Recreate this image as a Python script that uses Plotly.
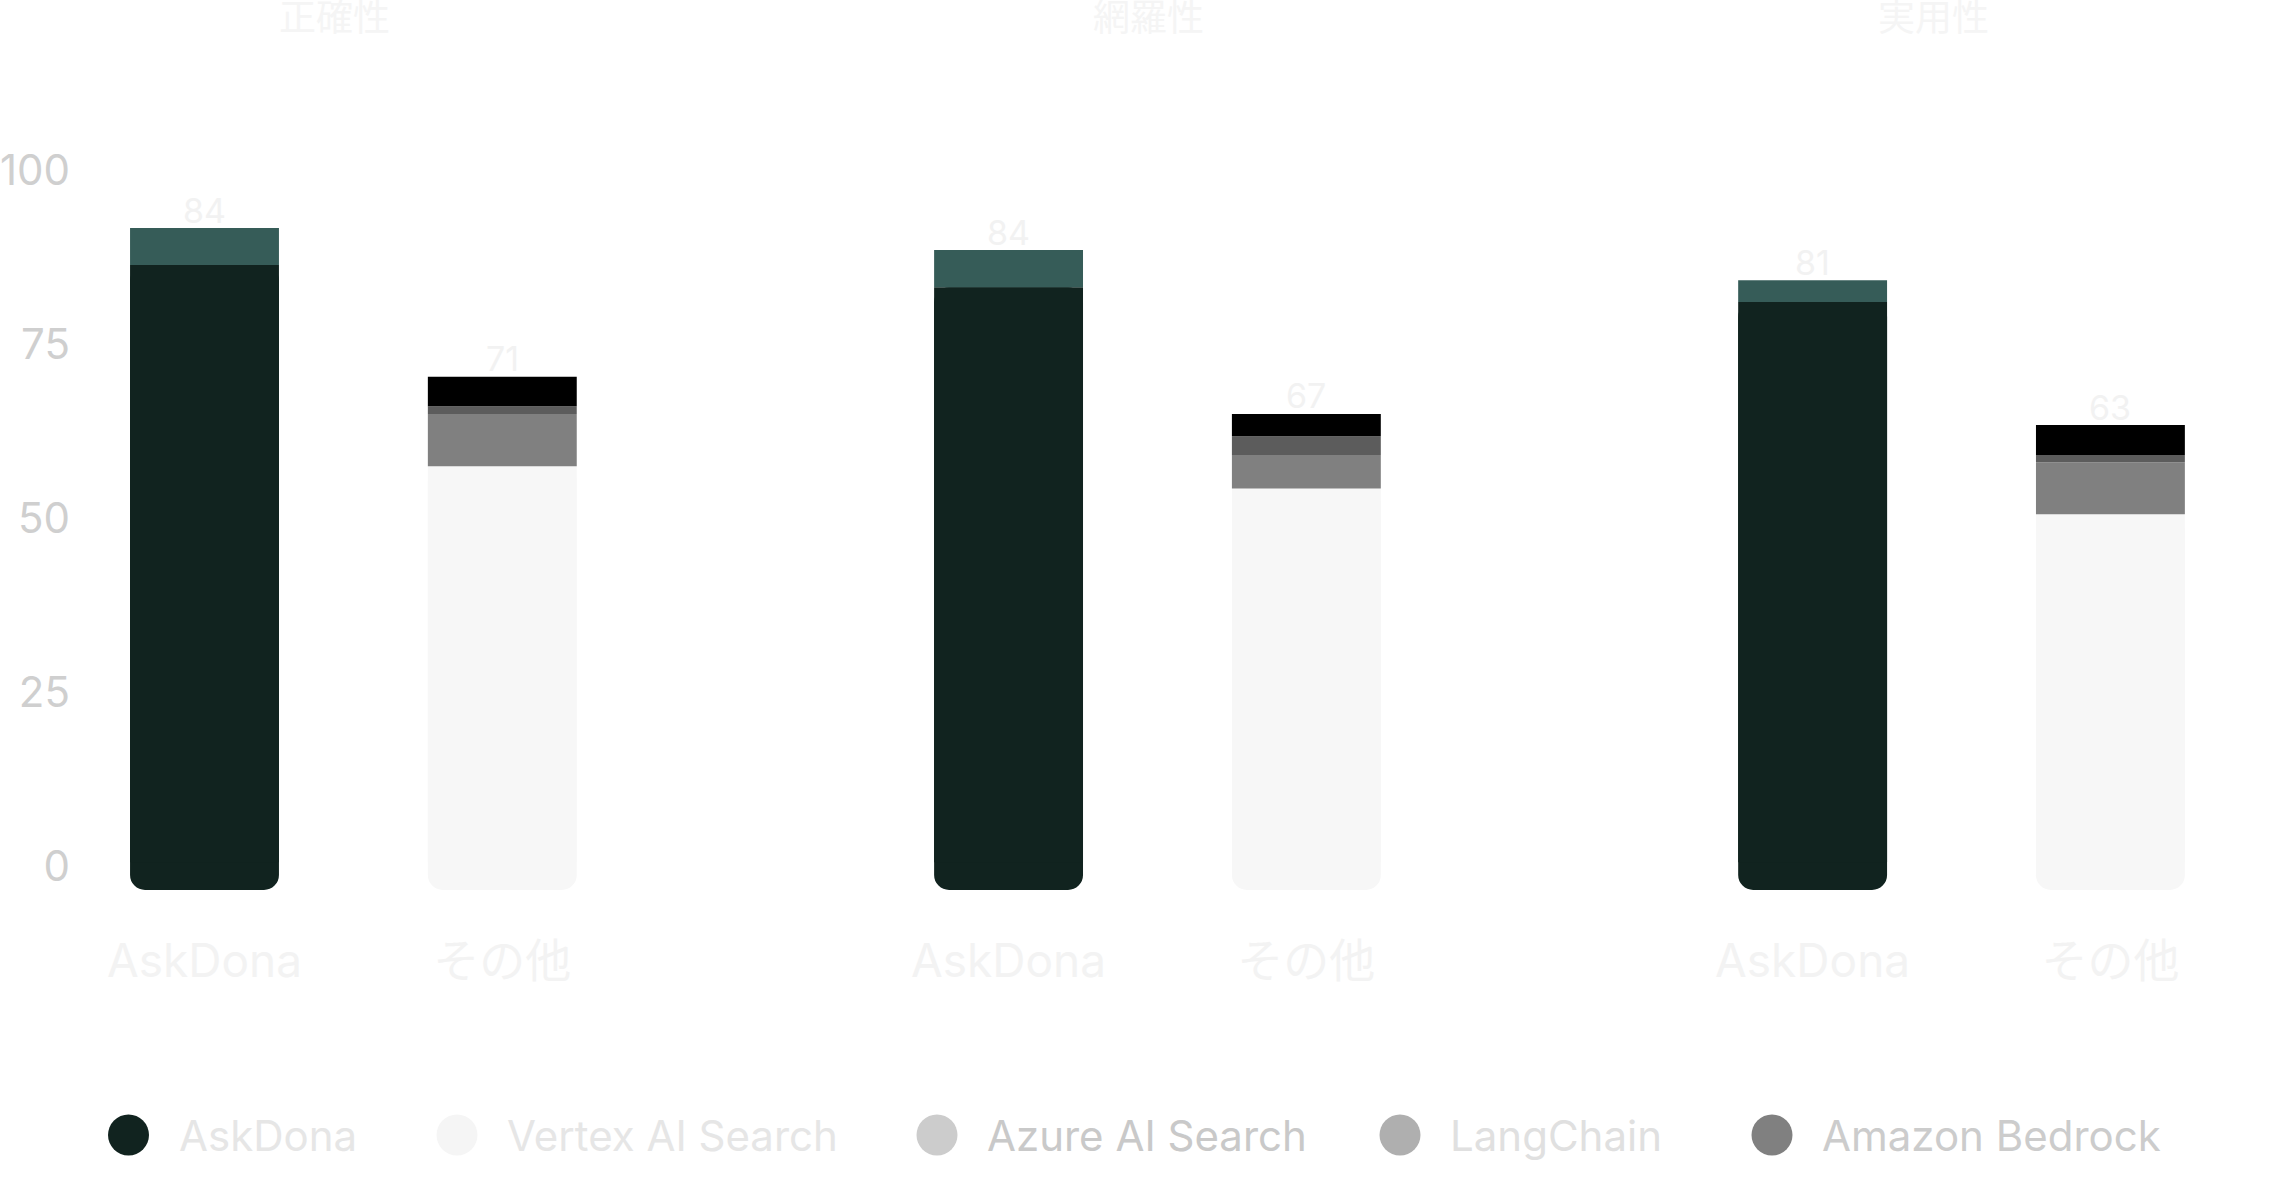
import plotly.graph_objects as go

# ---------------- data ----------------
groups = ["正確性", "網羅性", "実用性"]
bar_names = ["AskDona", "その他"]

askdona_main = [89.8, 86.6, 84.5]      # dark segment of AskDona bars
askdona_cap = [5.3, 5.35, 3.1]         # teal cap on AskDona bars
other_vertex = [60.9, 57.7, 54.0]      # light segment of その他 bars
other_gray = [7.5, 4.8, 7.45]
other_dgray = [1.1, 2.7, 1.05]
other_black = [4.25, 3.2, 4.3]

askdona_labels = [84, 84, 81]
other_labels = [71, 67, 63]

legend_names = ["AskDona", "Vertex AI Search", "Azure AI Search", "LangChain", "Amazon Bedrock"]
y_ticks = [0, 25, 50, 75, 100]

# ---------------- style ----------------
W, H = 2275, 1203
ML, MR, MT, MB = 80, 40, 120, 313
PW, PH = W - ML - MR, H - MT - MB
FONT = "Inter, 'Noto Sans CJK JP', sans-serif"
GROUP_STEP = 2.7
BAR_W = 0.5
UNIT_PX = 297.8
Y_PX = 6.96

C_DARK = "#11231f"
C_TEAL = "#365c58"
C_LIGHT = "#f7f7f7"
C_GRAY = "#808080"
C_DGRAY = "#5c5c5c"
C_BLACK = "#000000"

legend_marker_colors = ["#11231f", "#f5f5f5", "#cccccc", "#afafaf", "#808080"]
legend_text_colors = ["#e6e6e6", "#e6e6e6", "#c9c9c9", "#e0e0e0", "#cccccc"]
legend_marker_px = [128.5, 457, 937, 1400, 1772]
LEGEND_Y_PX = 1135
title_offsets = [0.435, 0.47, 0.405]

x_ask = [g * GROUP_STEP for g in range(len(groups))]
x_oth = [g * GROUP_STEP + 1 for g in range(len(groups))]


def px_x(px):
    return (px - ML) / PW


def px_y(py):
    return (H - MB - py) / PH


fig = go.Figure()

# bottom segments drawn downward from their top so the rounded corners sit at the bottom
fig.add_trace(go.Bar(x=x_ask, y=[-v for v in askdona_main], base=askdona_main,
                     width=BAR_W, marker=dict(color=C_DARK, cornerradius=15, line=dict(width=0)),
                     name="AskDona", showlegend=False, hoverinfo="skip"))
fig.add_trace(go.Bar(x=x_oth, y=[-v for v in other_vertex], base=other_vertex,
                     width=BAR_W, marker=dict(color=C_LIGHT, cornerradius=15, line=dict(width=0)),
                     name="Vertex AI Search", showlegend=False, hoverinfo="skip"))
# square upper parts (keep the top edge of the bottom segments square)
fig.add_trace(go.Bar(x=x_ask, y=[v - 4 for v in askdona_main], base=[4] * len(askdona_main),
                     width=BAR_W, marker=dict(color=C_DARK, line=dict(width=0)),
                     showlegend=False, hoverinfo="skip"))
fig.add_trace(go.Bar(x=x_oth, y=[v - 4 for v in other_vertex], base=[4] * len(other_vertex),
                     width=BAR_W, marker=dict(color=C_LIGHT, line=dict(width=0)),
                     showlegend=False, hoverinfo="skip"))

# stacked upper segments
fig.add_trace(go.Bar(x=x_ask, y=askdona_cap, base=askdona_main, width=BAR_W,
                     marker=dict(color=C_TEAL, line=dict(width=0)), showlegend=False))

b1 = other_vertex
fig.add_trace(go.Bar(x=x_oth, y=other_gray, base=b1, width=BAR_W,
                     marker=dict(color=C_GRAY, line=dict(width=0)), showlegend=False))
b2 = [a + b for a, b in zip(b1, other_gray)]
fig.add_trace(go.Bar(x=x_oth, y=other_dgray, base=b2, width=BAR_W,
                     marker=dict(color=C_DGRAY, line=dict(width=0)), showlegend=False))
b3 = [a + b for a, b in zip(b2, other_dgray)]
fig.add_trace(go.Bar(x=x_oth, y=other_black, base=b3, width=BAR_W,
                     marker=dict(color=C_BLACK, line=dict(width=0)), showlegend=False))

ask_tot = [a + b for a, b in zip(askdona_main, askdona_cap)]
oth_tot = [a + b for a, b in zip(b3, other_black)]

annotations = []
# value labels
for xs, ys, labs in ((x_ask, ask_tot, askdona_labels), (x_oth, oth_tot, other_labels)):
    for x, y, t in zip(xs, ys, labs):
        annotations.append(dict(x=x, y=y, xref="x", yref="y", text=str(t), showarrow=False,
                                yanchor="middle", yshift=18,
                                font=dict(family=FONT, size=34, color="#f2f2f2")))
# group titles
for g, name in enumerate(groups):
    annotations.append(dict(x=g * GROUP_STEP + title_offsets[g], y=px_y(17), xref="x", yref="paper",
                            text=name, showarrow=False, yanchor="middle", xanchor="center",
                            font=dict(family=FONT, size=37, color="#f5f5f5")))

# custom legend
shapes = []
for name, mc, tc, mx in zip(legend_names, legend_marker_colors, legend_text_colors, legend_marker_px):
    shapes.append(dict(type="circle", xref="paper", yref="paper",
                       xsizemode="pixel", ysizemode="pixel",
                       xanchor=px_x(mx), yanchor=px_y(LEGEND_Y_PX),
                       x0=-20.5, x1=20.5, y0=-20.5, y1=20.5,
                       fillcolor=mc, line=dict(width=0)))
    annotations.append(dict(x=px_x(mx + 48), y=px_y(LEGEND_Y_PX), xref="paper", yref="paper",
                            text=name, showarrow=False, xanchor="left", yanchor="middle",
                            font=dict(family=FONT, size=42, color=tc)))

tickvals = []
ticktext = []
for g in range(len(groups)):
    for b, n in enumerate(bar_names):
        tickvals.append(g * GROUP_STEP + b)
        ticktext.append(n)

x0 = -(204.5 - ML) / UNIT_PX
fig.update_layout(
    width=W, height=H,
    margin=dict(l=ML, r=MR, t=MT, b=MB, pad=0),
    paper_bgcolor="white", plot_bgcolor="white",
    barmode="overlay",
    showlegend=False,
    annotations=annotations,
    shapes=shapes,
    xaxis=dict(range=[x0, x0 + PW / UNIT_PX], automargin=False,
               tickvals=tickvals, ticktext=ticktext, showgrid=False, zeroline=False,
               showline=False, ticks="", ticklabelstandoff=40,
               tickfont=dict(family=FONT, size=46, color="#f3f3f3")),
    yaxis=dict(range=[0, PH / Y_PX], tickvals=y_ticks, automargin=False,
               showgrid=False, zeroline=False,
               showline=False, ticks="", ticklabelshift=-24, ticklabelstandoff=9,
               tickfont=dict(family=FONT, size=42, color="#cfcfcf")),
)

fig.write_html("out.html", config={"displayModeBar": False},
               post_script=["document.body.style.margin='0';"])
